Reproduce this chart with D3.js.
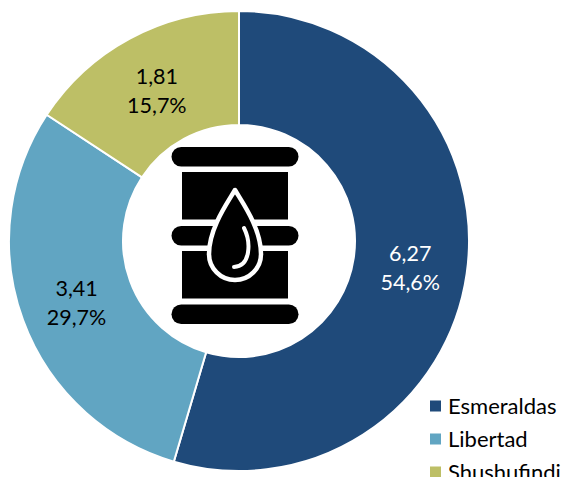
<!DOCTYPE html>
<html>
<head>
<meta charset="utf-8">
<script src="https://cdn.jsdelivr.net/npm/d3@7"></script>
<style>
  html, body { margin: 0; padding: 0; background: #fff; overflow: hidden; }
  text { font-family: Lato, "Open Sans", sans-serif; }
</style>
</head>
<body>
<div id="chart"></div>
<script>
const refineries = ['Esmeraldas', 'Libertad', 'Shushufindi'];
const values = [6.27, 3.41, 1.81];
const shares = ['54,6%', '29,7%', '15,7%'];
const valueLabels = ['6,27', '3,41', '1,81'];
const colours = ['#1f4a7a', '#61a5c2', '#bdbf66'];
const labelColours = ['#ffffff', '#000000', '#000000'];

const width = 563, height = 477;
const cx = 239, cy = 241;
const outer = 230, inner = 116;

const svg = d3.select('#chart').append('svg')
  .attr('width', width)
  .attr('height', height)
  .style('display', 'block');

const pie = d3.pie().sort(null)(values);
const arc = d3.arc().innerRadius(inner).outerRadius(outer);

const ring = svg.append('g').attr('transform', `translate(${cx},${cy})`);

ring.selectAll('path')
  .data(pie)
  .enter().append('path')
    .attr('d', arc)
    .attr('fill', (d, i) => colours[i])
    .attr('stroke', '#fff')
    .attr('stroke-width', 2);

// value + share labels, two lines each
const labels = ring.selectAll('text')
  .data(pie)
  .enter().append('text')
    .attr('text-anchor', 'middle')
    .attr('font-size', 21.5)
    .attr('fill', (d, i) => labelColours[i])
    .attr('transform', d => {
      const c = arc.centroid(d);
      return `translate(${c[0]},${c[1]})`;
    });
labels.append('tspan').attr('x', 0).attr('y', -5).text((d, i) => valueLabels[i]);
labels.append('tspan').attr('x', 0).attr('y', 24).text((d, i) => shares[i]);

// barrel icon in the hole
const icon = svg.append('g');
[[171.5, 147, 127, 19.5], [171.5, 226, 127, 19.5], [171.5, 304.5, 127, 19.5]].forEach(b => {
  icon.append('rect')
    .attr('x', b[0]).attr('y', b[1])
    .attr('width', b[2]).attr('height', b[3])
    .attr('rx', 9.7).attr('fill', '#000');
});
[[182, 172, 106, 47.5], [182, 251, 106, 47.5]].forEach(b => {
  icon.append('rect')
    .attr('x', b[0]).attr('y', b[1])
    .attr('width', b[2]).attr('height', b[3])
    .attr('fill', '#000');
});
icon.append('path')
  .attr('d', 'M235,190 C228,202 209,228 209,254 A26,26 0 0 0 261,254 C261,228 242,202 235,190 Z')
  .attr('fill', '#000')
  .attr('stroke', '#fff')
  .attr('stroke-width', 4.5)
  .attr('stroke-linejoin', 'round');
icon.append('path')
  .attr('d', 'M244,228 C251,242 251,266 234,267')
  .attr('fill', 'none')
  .attr('stroke', '#fff')
  .attr('stroke-width', 4)
  .attr('stroke-linecap', 'round');

// legend, last row runs off the bottom like the original
const legendY = d3.scalePoint().domain(refineries).range([406, 472]);
const legend = svg.selectAll('.legend')
  .data(refineries)
  .enter().append('g')
    .attr('class', 'legend')
    .attr('transform', d => `translate(430,${legendY(d)})`);
legend.append('rect')
  .attr('x', 0).attr('y', -5.5)
  .attr('width', 11).attr('height', 11)
  .attr('fill', (d, i) => colours[i]);
legend.append('text')
  .attr('x', 18).attr('y', 7.5)
  .attr('font-size', 22)
  .attr('fill', '#000')
  .text(d => d);
</script>
</body>
</html>
